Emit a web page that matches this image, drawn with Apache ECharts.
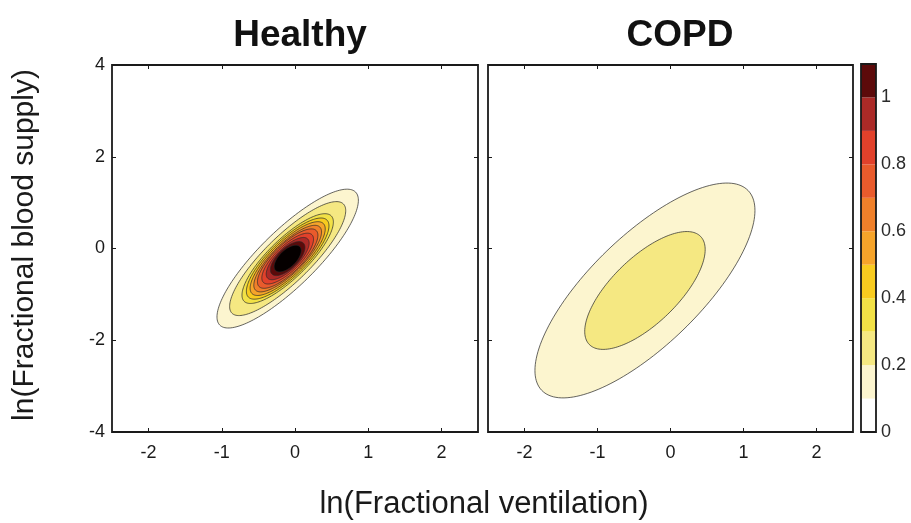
<!DOCTYPE html>
<html>
<head>
<meta charset="utf-8">
<script src="https://cdn.jsdelivr.net/npm/echarts@6/dist/echarts.min.js"></script>
<style>
html,body{margin:0;padding:0;background:#fff;}
#chart{width:911px;height:523px;}
</style>
</head>
<body>
<div id="chart"></div>
<script>
// ---- tick labels ----
const xTicks = [-2, -1, 0, 1, 2];
const yTicks = [-4, -2, 0, 2, 4];
const cbTicks = [0, 0.2, 0.4, 0.6, 0.8, 1];

// ---- colour bar bins (lower edge of each 0.1 bin) and colours ----
const cbBins = [0, 0.1, 0.2, 0.3, 0.4, 0.5, 0.6, 0.7, 0.8, 0.9, 1.0];
const cbColors = ['#ffffff', '#fcf5cf', '#f5e882', '#f2e146', '#f8cb1f', '#f6a42a',
                  '#f0802a', '#e95b2c', '#e1412b', '#ab2a27', '#5c0a0a'];
const coreColor = '#050000';

// ---- Healthy: contour levels and ellipse geometry (ln units) ----
const healthyCenter = [-0.10, -0.22];
const healthyLongTip = [0.928, 1.449];   // long-axis tip of the 0.1 contour, relative to centre
const healthyShortTip = [-0.268, 0.436]; // short-axis tip of the 0.1 contour
const healthyLevels = [0.1, 0.2, 0.3, 0.4, 0.5, 0.6, 0.7, 0.8, 0.9, 1.0, 1.1];
const healthyLongSize = [1, 0.821, 0.642, 0.579, 0.526, 0.474, 0.421, 0.358, 0.295, 0.232, 0.179];
const healthyShortSize = [1, 0.821, 0.696, 0.643, 0.589, 0.536, 0.5, 0.446, 0.393, 0.357, 0.304];

// ---- COPD ----
const copdCenter = [-0.35, -0.915];
const copdLongTip = [1.414, 2.177];
const copdShortTip = [-0.521, 0.863];
const copdLevels = [0.1, 0.2];
const copdLongSize = [1, 0.54];
const copdShortSize = [1, 0.60];

const FONT = '"Liberation Sans", Arial, sans-serif';
const INK = '#1a1a1a';

function levelColor(lv) {
  const idx = Math.round(lv * 10);
  return idx < cbColors.length ? cbColors[idx] : coreColor;
}

function contourSeries(axisIdx, center, longTip, shortTip, levels, longSize, shortSize) {
  return {
    type: 'custom',
    xAxisIndex: axisIdx,
    yAxisIndex: axisIdx,
    silent: true,
    animation: false,
    data: levels.map((lv, i) => [center[0], center[1], lv, i]),
    renderItem: function (params, api) {
      const cx = api.value(0), cy = api.value(1), lv = api.value(2), i = api.value(3);
      const sl = longSize[i], ss = shortSize[i];
      const pts = [];
      const n = 160;
      for (let k = 0; k < n; k++) {
        const t = 2 * Math.PI * k / n;
        const c = Math.cos(t), s = Math.sin(t);
        pts.push(api.coord([
          cx + sl * longTip[0] * c + ss * shortTip[0] * s,
          cy + sl * longTip[1] * c + ss * shortTip[1] * s
        ]));
      }
      return {
        type: 'polygon',
        shape: { points: pts },
        style: { fill: levelColor(lv), stroke: 'rgba(40,40,40,0.8)', lineWidth: 0.9 }
      };
    }
  };
}

function xAx(grid, pos, labels) {
  return {
    type: 'value', gridIndex: grid, position: pos, min: -2.5, max: 2.5,
    splitLine: { show: false },
    axisLine: { show: false, onZero: false },
    axisTick: { show: true, inside: true, length: 4, customValues: xTicks,
                lineStyle: { color: INK, width: 1 } },
    axisLabel: { show: labels, customValues: xTicks, margin: 12,
                 fontFamily: FONT, fontSize: 18, color: INK }
  };
}
function yAx(grid, pos, labels) {
  return {
    type: 'value', gridIndex: grid, position: pos, min: -4, max: 4,
    splitLine: { show: false },
    axisLine: { show: false, onZero: false },
    axisTick: { show: true, inside: true, length: 4, customValues: yTicks,
                lineStyle: { color: INK, width: 1 } },
    axisLabel: { show: labels, customValues: yTicks, margin: 7,
                 fontFamily: FONT, fontSize: 18, color: INK }
  };
}

const chart = echarts.init(document.getElementById('chart'), null, { renderer: 'canvas' });

const cbSeries = {
  type: 'custom',
  xAxisIndex: 4, yAxisIndex: 4,
  silent: true, animation: false,
  data: cbBins.map((b, i) => [0, b, i]),
  renderItem: function (params, api) {
    const lo = api.value(1), i = api.value(2);
    const p0 = api.coord([0, lo]);
    const p1 = api.coord([1, lo + 0.1]);
    return {
      type: 'rect',
      shape: { x: p0[0], y: p1[1], width: p1[0] - p0[0], height: p0[1] - p1[1] },
      style: { fill: cbColors[i], stroke: null }
    };
  }
};

chart.setOption({
  backgroundColor: '#ffffff',
  animation: false,
  grid: [
    { left: 112, top: 65, width: 366, height: 367, show: true, borderColor: INK, borderWidth: 1.8, backgroundColor: 'transparent', z: 10 },
    { left: 488, top: 65, width: 365, height: 367, show: true, borderColor: INK, borderWidth: 1.8, backgroundColor: 'transparent', z: 10 },
    { left: 861, top: 64, width: 15, height: 368, show: true, borderColor: INK, borderWidth: 1.8, backgroundColor: 'transparent', z: 10 }
  ],
  xAxis: [
    xAx(0, 'bottom', true), xAx(0, 'top', false),
    xAx(1, 'bottom', true), xAx(1, 'top', false),
    { type: 'value', gridIndex: 2, min: 0, max: 1, show: false }
  ],
  yAxis: [
    yAx(0, 'left', true), yAx(0, 'right', false),
    yAx(1, 'left', false), yAx(1, 'right', false),
    {
      type: 'value', gridIndex: 2, position: 'right', min: 0, max: 1.1,
      splitLine: { show: false }, axisLine: { show: false, onZero: false }, axisTick: { show: false },
      axisLabel: { customValues: cbTicks, margin: 5, fontFamily: FONT, fontSize: 18, color: '#2a2a2a' }
    }
  ],
  series: [
    contourSeries(0, healthyCenter, healthyLongTip, healthyShortTip, healthyLevels, healthyLongSize, healthyShortSize),
    contourSeries(2, copdCenter, copdLongTip, copdShortTip, copdLevels, copdLongSize, copdShortSize),
    cbSeries
  ],
  graphic: [
    { type: 'text', x: 300, y: 36, style: { text: 'Healthy', font: 'bold 37px ' + FONT, fill: '#111', textAlign: 'center', textVerticalAlign: 'middle' } },
    { type: 'text', x: 680, y: 36, style: { text: 'COPD', font: 'bold 37px ' + FONT, fill: '#111', textAlign: 'center', textVerticalAlign: 'middle' } },
    { type: 'text', x: 484, y: 504, style: { text: 'ln(Fractional ventilation)', font: '31px ' + FONT, fill: INK, textAlign: 'center', textVerticalAlign: 'middle' } },
    { type: 'text', x: 25, y: 245, rotation: Math.PI / 2, style: { text: 'ln(Fractional blood supply)', font: '30px ' + FONT, fill: INK, textAlign: 'center', textVerticalAlign: 'middle' } }
  ]
});
</script>
</body>
</html>
